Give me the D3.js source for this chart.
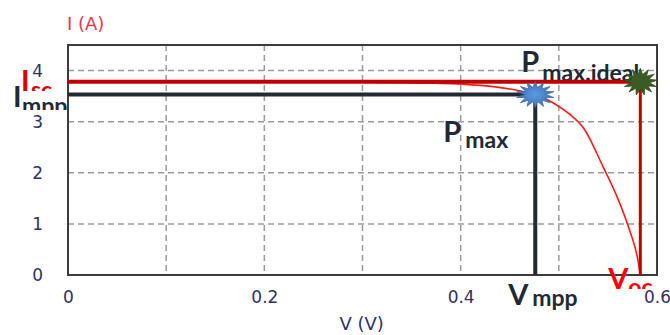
<!DOCTYPE html>
<html>
<head>
<meta charset="utf-8">
<script src="https://cdn.jsdelivr.net/npm/d3@7"></script>
<style>
  html, body { margin: 0; padding: 0; background: #fff; }
  svg { display: block; }
</style>
</head>
<body>
<div id="chart"></div>
<script>
// I-V curve of the cell
const voltage = [0, 0.1, 0.2, 0.3, 0.38, 0.42, 0.45, 0.476, 0.494, 0.51, 0.525, 0.545, 0.56, 0.572, 0.58, 0.583];
const current = [3.78, 3.78, 3.78, 3.77, 3.75, 3.71, 3.64, 3.53, 3.37, 3.16, 2.88, 2.12, 1.5, 0.88, 0.35, 0];

const isc = 3.78, voc = 0.583;
const impp = 3.53, vmpp = 0.476;

const xTicks = [0, 0.2, 0.4, 0.6];
const yTicks = [0, 1, 2, 3, 4];
const xGrid = [0.1, 0.2, 0.3, 0.4, 0.5];
const yGrid = [1, 2, 3, 4];

const width = 670, height = 335;
const margin = {top: 45, right: 13, bottom: 60, left: 68};

const svg = d3.select('#chart').append('svg')
    .attr('width', width)
    .attr('height', height);

const x = d3.scaleLinear().domain([0, 0.6]).range([margin.left, width - margin.right]);
const y = d3.scaleLinear().domain([0, 4.5]).range([height - margin.bottom, margin.top]);

const defs = svg.append('defs');

// grid
const grid = svg.append('g')
    .attr('stroke', '#9a9a9a')
    .attr('stroke-width', 1.5)
    .attr('stroke-dasharray', '6,4');
grid.selectAll('.vg').data(xGrid).join('line')
    .attr('x1', d => x(d)).attr('x2', d => x(d))
    .attr('y1', y(4.5)).attr('y2', y(0));
grid.selectAll('.hg').data(yGrid).join('line')
    .attr('x1', x(0)).attr('x2', x(0.6))
    .attr('y1', d => y(d)).attr('y2', d => y(d));

// frame
svg.append('rect')
    .attr('x', x(0)).attr('y', y(4.5))
    .attr('width', x(0.6) - x(0)).attr('height', y(0) - y(4.5))
    .attr('fill', 'none')
    .attr('stroke', '#3c3c3c')
    .attr('stroke-width', 2);

// axes
const tickColor = '#33305e';
const xAxis = svg.append('g')
    .attr('transform', `translate(0, ${y(0)})`)
    .call(d3.axisBottom(x).tickValues(xTicks).tickSize(0).tickPadding(16).tickFormat(d => String(d)));
const yAxis = svg.append('g')
    .attr('transform', `translate(${x(0)}, 0)`)
    .call(d3.axisLeft(y).tickValues(yTicks).tickSize(0).tickPadding(25).tickFormat(d => String(d)));
[xAxis, yAxis].forEach(a => {
    a.select('.domain').remove();
    a.selectAll('text')
        .attr('fill', tickColor)
        .style('font-family', '"DejaVu Sans", Verdana, sans-serif')
        .style('font-size', '17px');
});

svg.append('text')
    .attr('x', x(0) - 1).attr('y', 30)
    .attr('fill', '#e8364f')
    .style('font-family', '"DejaVu Sans", Verdana, sans-serif')
    .style('font-size', '18px')
    .text('I (A)');

svg.append('text')
    .attr('x', x(0.3) - 23).attr('y', 330)
    .attr('fill', '#31306a')
    .style('font-family', '"DejaVu Sans", Verdana, sans-serif')
    .style('font-size', '18px')
    .text('V (V)');

// annotation labels (big letter + subscript), each clipped like the original text boxes
function label(id, bx, by, big, sx, sy, sub, color, clip) {
    defs.append('clipPath').attr('id', id)
        .append('rect')
        .attr('x', clip[0]).attr('y', clip[1])
        .attr('width', clip[2]).attr('height', clip[3]);
    const g = svg.append('g')
        .attr('clip-path', `url(#${id})`)
        .attr('fill', color)
        .style('font-family', 'Lato, "Open Sans", sans-serif')
        .style('font-weight', 700);
    g.append('text').attr('x', bx).attr('y', by).style('font-size', '29px').text(big);
    g.append('text').attr('x', sx).attr('y', sy).style('font-size', '23px').text(sub);
}

const dark = '#1f2937';
label('c-pmi', x(vmpp) - 14, y(isc) - 10, 'P', x(vmpp) + 7, y(isc) - 1, 'max.ideal', dark, [500, 40, x(0.6) - 500 - 1, 60]);
label('c-pm', x(vmpp) - 92, 142, 'P', x(vmpp) - 70, 148, 'max', dark, [400, 100, 140, 70]);
label('c-isc', 21, y(isc) + 9, 'I', 31, y(isc) + 16, 'sc', '#e00000', [0, 55, 60, 36]);
label('c-impp', 13, y(impp) + 12, 'I', 22, y(impp) + 19, 'mpp', dark, [0, 80, 67, 30]);
label('c-vmpp', x(vmpp) - 27, y(0) + 30, 'V', x(vmpp) - 3, y(0) + 31, 'mpp', dark, [480, 278, 120, 57]);
label('c-voc', x(voc) - 32, y(0) + 14, 'V', x(voc) - 12, y(0) + 20, 'oc', '#ff0000', [590, 262, 70, 27]);

// I-V curve
const pts = voltage.map((v, i) => [v, current[i]]);
svg.append('path')
    .datum(pts)
    .attr('fill', 'none')
    .attr('stroke', '#ff1a1a')
    .attr('stroke-width', 1.6)
    .attr('d', d3.line().x(d => x(d[0])).y(d => y(d[1])).curve(d3.curveMonotoneX));

// MPP rectangle
svg.append('path')
    .attr('fill', 'none')
    .attr('stroke', '#222a35')
    .attr('stroke-width', 4)
    .attr('d', `M${x(0)},${y(impp)}H${x(vmpp)}V${y(0)}`);

// ideal rectangle
svg.append('path')
    .attr('fill', 'none')
    .attr('stroke', '#c00000')
    .attr('stroke-width', 4)
    .attr('d', `M${x(0)},${y(isc)}H${x(voc)}`);
svg.append('path')
    .attr('fill', 'none')
    .attr('stroke', '#c00000')
    .attr('stroke-width', 3)
    .attr('d', `M${x(voc)},${y(isc)}V${y(0)}`);

// stars
function star(n, inner) {
    const r = d3.range(n * 2).map(i => [i * Math.PI / n, i % 2 ? inner : 1]);
    return d3.lineRadial().angle(d => d[0]).radius(d => d[1]).curve(d3.curveLinearClosed)(r);
}

const blueGrad = defs.append('radialGradient').attr('id', 'blueStar');
blueGrad.append('stop').attr('offset', '0%').attr('stop-color', '#5a9ae0');
blueGrad.append('stop').attr('offset', '100%').attr('stop-color', '#3f73b5');

svg.append('path')
    .attr('d', star(14, 0.55))
    .attr('transform', `translate(${x(vmpp)},${y(impp)}) scale(19,13)`)
    .attr('fill', 'url(#blueStar)')
    .attr('stroke', '#3a6aa8')
    .attr('stroke-width', 0.05);

svg.append('path')
    .attr('d', star(13, 0.55))
    .attr('transform', `translate(${x(voc)},${y(isc)}) scale(17,13.5)`)
    .attr('fill', '#3b5a24')
    .attr('stroke', '#2f4a1c')
    .attr('stroke-width', 0.05);
</script>
</body>
</html>
